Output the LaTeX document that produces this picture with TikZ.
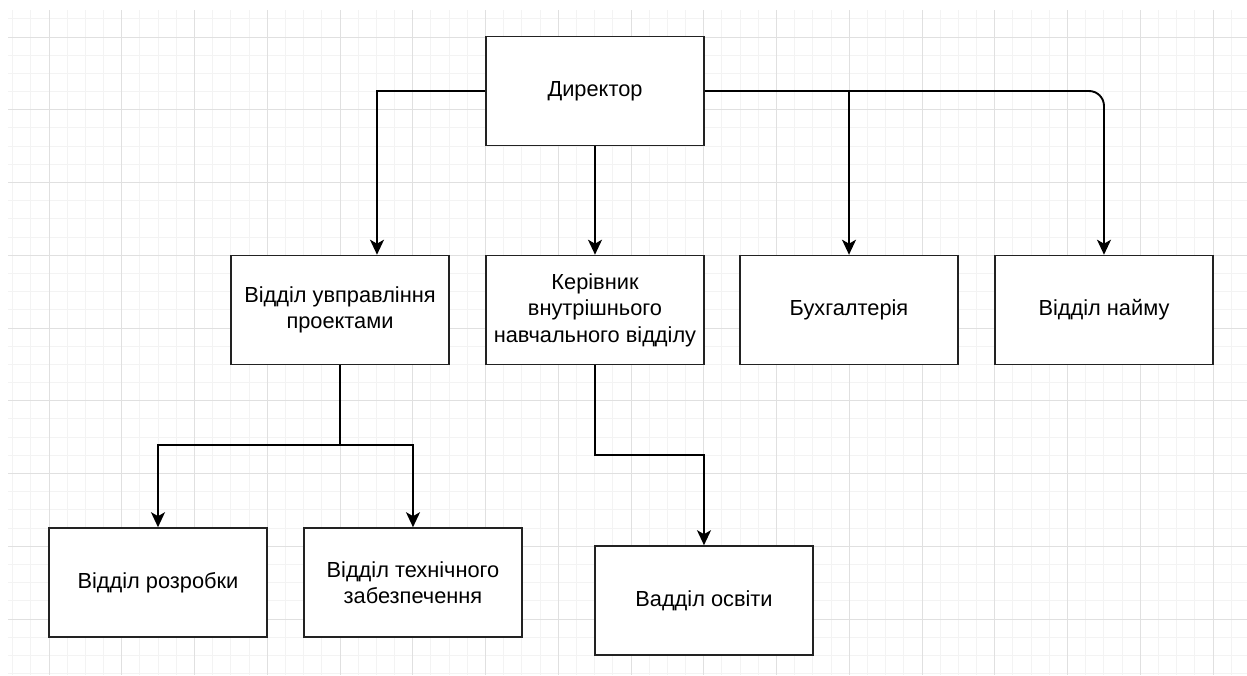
\documentclass[tikz,border=0pt]{standalone}
\usepackage{fontspec}
\setmainfont{Liberation Sans}
\usetikzlibrary{arrows.meta}
\definecolor{gridmajor}{HTML}{E0E0E0}
\definecolor{gridminor}{HTML}{F3F3F3}
\definecolor{boxline}{HTML}{222222}
\tikzset{
  box/.style={draw=boxline, line width=1.6pt, fill=white, minimum width=218pt, minimum height=109pt,
    align=center, inner sep=2pt, font=\fontsize{21.8}{26.5}\selectfont},
  conn/.style={draw=black, line width=1.9pt, -{Stealth[length=15pt, width=14pt, inset=4pt]}},
}
\begin{document}
\begin{tikzpicture}[x=1pt, y=-1pt]
\useasboundingbox (0,0) rectangle (1247,675);
\fill[white] (0,0) rectangle (1247,675);
\begin{scope}
\clip (8,10) rectangle (1247,675);
\foreach \i in {-2,...,65} {
  \draw[gridminor, line width=1pt] ({49+18.1875*\i},10) -- ({49+18.1875*\i},675);
}
\foreach \j in {-1,...,35} {
  \draw[gridminor, line width=1pt] (8,{37+18.1875*\j}) -- (1247,{37+18.1875*\j});
}
\foreach \i in {0,...,16} {
  \draw[gridmajor, line width=1pt] ({49+72.75*\i},10) -- ({49+72.75*\i},675);
}
\foreach \j in {0,...,8} {
  \draw[gridmajor, line width=1pt] (8,{37+72.75*\j}) -- (1247,{37+72.75*\j});
}
\end{scope}

\node[box] (dir) at (595,91) {Директор};
\node[box] (upr) at (340,310) {Відділ увправління\\проектами};
\node[box] (ker) at (595,310) {Керівник\\внутрішнього\\навчального відділу};
\node[box] (buh) at (849,310) {Бухгалтерія};
\node[box] (naim) at (1104,310) {Відділ найму};
\node[box] (rozr) at (158,582.5) {Відділ розробки};
\node[box] (tech) at (413,582.5) {Відділ технічного\\забезпечення};
\node[box] (osv) at (704,600.5) {Вадділ освіти};

\draw[conn] (dir.west) -| ([xshift=37pt]upr.north);
\draw[conn] (dir.south) -- (ker.north);
\draw[conn] (dir.east) -| (buh.north);
\draw[conn, rounded corners=15pt] (dir.east) -| (naim.north);
\draw[conn] (upr.south) -- ++(0,80) -| (rozr.north);
\draw[conn] (upr.south) -- ++(0,80) -| (tech.north);
\draw[conn] (ker.south) -- ++(0,90) -| (osv.north);
\end{tikzpicture}
\end{document}
